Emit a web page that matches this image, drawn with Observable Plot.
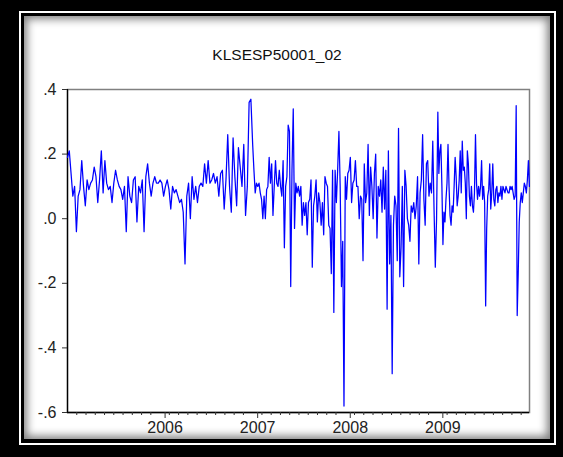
<!DOCTYPE html>
<html><head><meta charset="utf-8">
<script src="https://cdn.jsdelivr.net/npm/d3@7"></script>
<script src="https://cdn.jsdelivr.net/npm/@observablehq/plot@0.6"></script>
<style>
html,body{margin:0;padding:0;background:#000;}
#wrap{position:relative;width:563px;height:457px;background:#000;overflow:hidden;}
#b1{position:absolute;left:19px;top:11px;width:537px;height:434px;box-sizing:border-box;border:2px solid #fff;background:#000;}
#panel{position:absolute;left:24px;top:16px;width:526px;height:423px;background:#fff;box-shadow:inset 0 0 9px 3px rgba(0,0,0,0.5);}
#title{position:absolute;left:0;width:554px;top:47px;text-align:center;font:15.5px "Liberation Sans",Arial,sans-serif;color:#111;line-height:16px;}
#chart{position:absolute;left:0;top:0;}
</style></head>
<body>
<div id="wrap"><div id="b1"></div><div id="panel"></div><div id="title"></div><div id="chart"></div></div>
<script>
const titleText = "KLSESP50001_02";
const yearTicks = [2006, 2007, 2008, 2009];
const yTicks = [-0.6, -0.4, -0.2, 0, 0.2, 0.4];

const y2005 = [0.19, 0.21, 0.14, 0.07, 0.10, -0.04, 0.07, 0.09, 0.18, 0.10, 0.04, 0.12, 0.09, 0.11, 0.12, 0.16, 0.13, 0.05, 0.12, 0.21, 0.08, 0.18, 0.11, 0.09, 0.10, 0.05, 0.11, 0.15, 0.12, 0.10, 0.09, 0.06, 0.10, -0.04, 0.13, 0.07, 0.05, 0.12, 0.13, -0.01, 0.10, 0.08, 0.12, -0.04, 0.13, 0.17, 0.11, 0.07, 0.11, 0.13, 0.11, 0.11];
const y2006 = [0.12, 0.11, 0.07, 0.10, 0.12, 0.09, 0.03, 0.10, 0.08, 0.09, 0.07, 0.05, 0.06, 0.02, -0.14, 0.07, 0.11, 0.00, 0.13, 0.06, 0.10, 0.05, 0.10, 0.11, 0.10, 0.17, 0.11, 0.18, 0.11, 0.12, 0.14, 0.11, 0.13, 0.07, 0.14, 0.15, 0.03, 0.12, 0.26, 0.10, 0.02, 0.25, 0.13, 0.04, 0.22, 0.16, 0.10, 0.23, 0.01, 0.10, 0.36, 0.37];
const y2007 = [0.23, 0.15, 0.08, 0.11, 0.10, 0.11, 0.08, 0.06, 0.00, 0.07, 0.00, 0.09, 0.10, 0.19, 0.11, 0.17, 0.01, 0.10, 0.18, 0.11, 0.10, 0.15, 0.10, 0.07, 0.18, -0.09, 0.10, 0.13, 0.29, 0.27, -0.21, 0.15, 0.34, -0.03, 0.11, 0.08, 0.10, 0.07, 0.10, -0.02, 0.05, 0.01, 0.05, -0.05, 0.05, 0.06, 0.12, -0.15, 0.04, 0.07, 0.12, -0.01, 0.08, 0.05, -0.02, 0.05, -0.05, 0.13, 0.11, 0.10, -0.02, -0.03, -0.17, 0.15, -0.29, 0.15, 0.05, 0.15, 0.27, 0.10, -0.21, -0.07, -0.58];
const y2008 = [0.13, 0.06, 0.14, 0.15, 0.19, 0.05, 0.11, 0.12, 0.18, 0.10, 0.10, 0.00, 0.07, 0.06, -0.13, 0.17, 0.05, 0.08, 0.23, 0.01, 0.16, 0.10, 0.00, 0.14, 0.20, -0.06, 0.10, 0.07, 0.12, 0.02, 0.16, 0.03, 0.15, -0.28, 0.21, -0.14, 0.01, -0.48, -0.02, 0.07, 0.04, -0.13, 0.28, -0.18, -0.09, 0.10, -0.21, 0.15, 0.10, 0.00, -0.02, -0.07, 0.04, 0.02, 0.05, 0.00, 0.04, 0.13, -0.14, 0.08, 0.12, 0.26, 0.06, -0.02, 0.17, 0.18, 0.07, 0.11, 0.08, 0.24, 0.03, -0.15, 0.00];
const y2009 = [0.33, 0.14, 0.21, 0.23, 0.10, -0.08, 0.02, -0.01, 0.06, 0.11, 0.23, 0.10, 0.01, -0.02, 0.04, 0.02, 0.10, 0.19, 0.13, 0.04, 0.07, 0.12, 0.21, 0.08, 0.24, 0.15, 0.16, 0.11, 0.00, 0.21, 0.17, 0.07, 0.04, 0.10, 0.04, 0.02, 0.08, 0.26, 0.11, 0.06, 0.10, 0.07, 0.10, 0.18, 0.06, 0.10, 0.05, -0.27, -0.03, 0.07, 0.09, 0.17, 0.03, 0.08, 0.17, 0.06, 0.04, 0.09, 0.10, 0.05, 0.08, 0.07, 0.10, 0.06, 0.10, 0.09, 0.08, 0.10, 0.09, 0.08, 0.08, 0.10, 0.09, 0.10, 0.08, 0.06, 0.07, 0.35, -0.30, -0.17, -0.01, 0.05, 0.08, 0.05, 0.08, 0.11, 0.10, 0.08, 0.12, 0.18, 0.10];

const series = [[2005, y2005], [2006, y2006], [2007, y2007], [2008, y2008], [2009, y2009]];
const data = series.flatMap(([yr, vals]) => vals.map((v, i) => ({x: yr + i / vals.length, y: v})));
const minorTicks = [];
for (const [yr] of series) for (let k = 1; k < 10; k++) minorTicks.push(yr + k / 10);

const fmt = d => Math.abs(d) < 1e-9 ? ".0" : (d < 0 ? "-" : "") + Math.abs(d).toFixed(1).replace(/^0/, "");

document.getElementById("title").textContent = titleText;

const chart = Plot.plot({
  width: 563, height: 457,
  marginLeft: 67, marginRight: 34, marginTop: 89, marginBottom: 45,
  style: {background: "transparent", fontFamily: "'Liberation Sans', Arial, sans-serif", fontSize: "16px", color: "#222"},
  x: {domain: [2005, 2009.99], label: null},
  y: {domain: [-0.6, 0.4], label: null},
  marks: [
    Plot.frame({stroke: "#808080", strokeWidth: 1.5}),
    Plot.ruleX([2005], {stroke: "#000", strokeWidth: 1.3}),
    Plot.ruleY([-0.6], {stroke: "#000", strokeWidth: 1.3}),
    Plot.axisY(yTicks, {tickSize: 5, tickPadding: 6, tickFormat: fmt, stroke: "#333", label: null}),
    Plot.axisX(minorTicks, {tickSize: 3, tickFormat: () => "", stroke: "#333", label: null}),
    Plot.axisX(yearTicks, {tickSize: 6, tickPadding: 3, tickFormat: d => String(d), dx: 5, stroke: "#333", label: null}),
    Plot.lineY(data, {x: "x", y: "y", stroke: "#0000ff", strokeWidth: 1.25})
  ]
});
document.getElementById("chart").appendChild(chart);
</script>
</body></html>
